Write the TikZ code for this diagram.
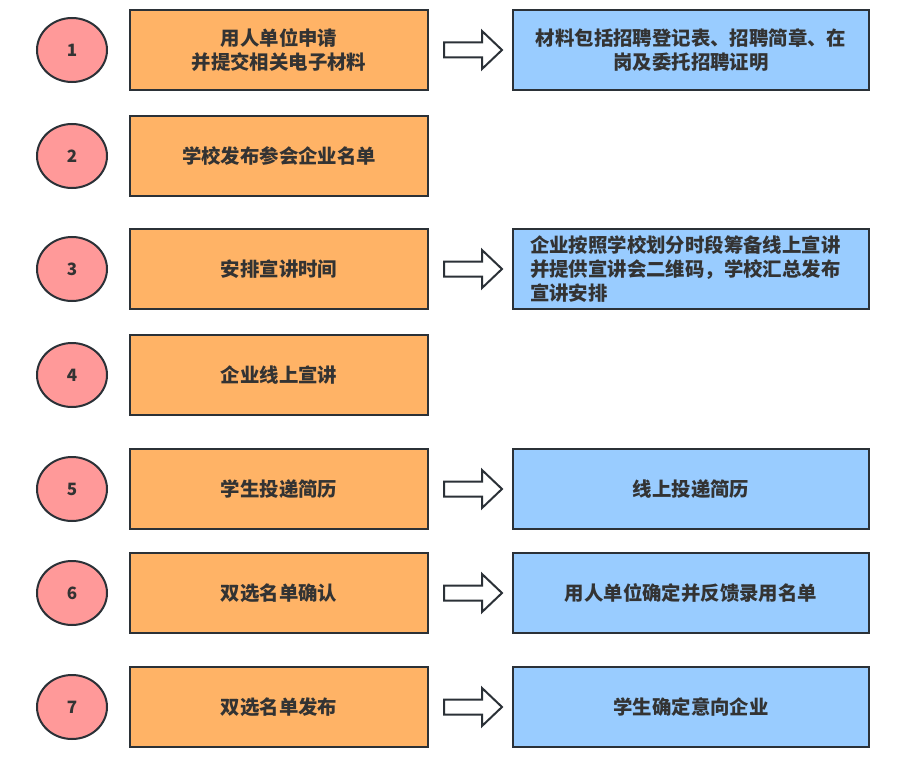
\documentclass[tikz,border=0pt]{standalone}
\usepackage{fontspec}
\setmainfont{Noto Sans CJK SC}
\usetikzlibrary{shapes.geometric}
\definecolor{orangef}{HTML}{FFB366}
\definecolor{pinkf}{HTML}{FF9999}
\definecolor{bluef}{HTML}{99CCFF}
\definecolor{strokec}{HTML}{2B3137}
\definecolor{textc}{HTML}{333333}
\tikzset{
  base/.style={draw=strokec, line width=2pt, text=textc, font=\fontsize{19.4}{24}\selectfont\bfseries, align=center, inner sep=0pt},
  stepbox/.style={base, fill=orangef, minimum width=298pt, minimum height=80pt},
  infobox/.style={base, fill=bluef, minimum width=356pt, minimum height=80pt},
  numcircle/.style={base, ellipse, fill=pinkf, minimum width=70pt, minimum height=64pt, font=\fontsize{17}{20}\selectfont\bfseries},
  blockarrow/.style={draw=strokec, line width=2pt, fill=white, line join=miter}
}
\begin{document}
\begin{tikzpicture}[x=1pt,y=-1pt]
\useasboundingbox (0,0) rectangle (906,760);
% circles
\foreach \n/\y in {1/50,2/156,3/269,4/375,5/489,6/593,7/707}{
  \node[numcircle] (c\n) at (72,\y) {\n};
}
% step boxes
\node[stepbox] (s1) at (279,50) {用人单位申请\\并提交相关电子材料};
\node[stepbox] (s2) at (279,156) {学校发布参会企业名单};
\node[stepbox] (s3) at (279,269) {安排宣讲时间};
\node[stepbox] (s4) at (279,375) {企业线上宣讲};
\node[stepbox] (s5) at (279,489) {学生投递简历};
\node[stepbox] (s6) at (279,593) {双选名单确认};
\node[stepbox] (s7) at (279,707) {双选名单发布};
% info boxes
\node[infobox] (b1) at (691,50) {材料包括招聘登记表、招聘简章、在\\岗及委托招聘证明};
\node[infobox, align=left, text width=322pt] (b3) at (691,269) {企业按照学校划分时段筹备线上宣讲\\并提供宣讲会二维码，学校汇总发布\\宣讲安排};
\node[infobox] (b5) at (691,489) {线上投递简历};
\node[infobox] (b6) at (691,593) {用人单位确定并反馈录用名单};
\node[infobox] (b7) at (691,707) {学生确定意向企业};
% block arrows
\foreach \r in {1,3,5,6,7}{
  \coordinate (a\r) at ([xshift=15pt]s\r.east);
  \draw[blockarrow] (a\r) ++(0,-7.5) -- ++(38,0) -- ++(0,-11.5) -- ++(20,19) -- ++(-20,19) -- ++(0,-11.5) -- ++(-38,0) -- cycle;
}
\end{tikzpicture}
\end{document}
